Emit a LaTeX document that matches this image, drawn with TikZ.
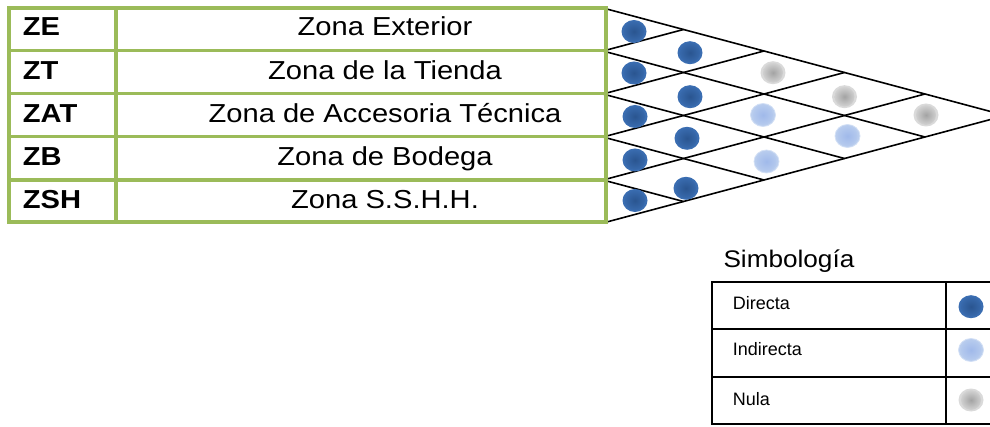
\documentclass[tikz,border=0pt]{standalone}
\usepackage{fontspec}
\setmainfont{Liberation Sans}
\usetikzlibrary{shapes.geometric}
\definecolor{tgreen}{HTML}{9BBB59}
\definecolor{dirO}{HTML}{3A6DB1}
\definecolor{dirI}{HTML}{2A5590}
\definecolor{indO}{HTML}{B9CDEE}
\definecolor{indI}{HTML}{A0B9EA}
\definecolor{indR}{HTML}{D3E0F5}
\definecolor{nulO}{HTML}{DADADA}
\definecolor{nulI}{HTML}{A3A3A3}
\tikzset{
  dotbase/.style={ellipse, minimum width=25pt, minimum height=23pt, inner sep=0pt},
  directa/.style={dotbase, fill=dirO, path picture={\shade[inner color=dirI, outer color=dirO] (path picture bounding box.center) circle (10pt);}},
  indirecta/.style={dotbase, fill=indO, draw=indR, line width=0.8pt, path picture={\shade[inner color=indI, outer color=indO] (path picture bounding box.center) circle (10pt);}},
  nula/.style={dotbase, fill=nulO, path picture={\shade[inner color=nulI, outer color=nulO] (path picture bounding box.center) circle (10pt);}},
  gridline/.style={line width=1.6pt, black},
  greenline/.style={line width=3.3pt, tgreen},
  legline/.style={line width=1.8pt, black},
  zname/.style={anchor=base, inner sep=0pt, font=\fontsize{26}{30}\selectfont},
  zcode/.style={anchor=base west, inner sep=0pt, font=\fontsize{26}{30}\selectfont\bfseries},
  legtext/.style={anchor=base west, inner sep=0pt, font=\fontsize{18}{21}\selectfont},
}
\newcommand{\sx}[1]{\scalebox{1.12}[1]{#1}}
\begin{document}
\begin{tikzpicture}[x=1pt,y=-1pt]
\useasboundingbox (0,0) rectangle (990,427);
\clip (0,0) rectangle (990,427);
% triangle grid
\foreach \i in {0,...,5} \coordinate (P\i) at (603,{8+43*\i});
\foreach \i in {0,...,4}
  \draw[gridline] (P\i) -- ({603+(5-\i)*80.5},{(8+43*\i+223)/2});
\foreach \j in {1,...,5}
  \draw[gridline] (P\j) -- ({603+\j*80.5},{(16+43*\j)/2});
% green table
\draw[greenline] (9,8) rectangle (606,222);
\foreach \y in {50.7,93.3,136.7,180} \draw[greenline] (9,\y) -- (606,\y);
\draw[greenline] (116,8) -- (116,222);
% codes
\node[zcode] (cZE)  at (22.7,36)  {\sx{ZE}};
\node[zcode] (cZT)  at (22.7,79.5)  {\sx{ZT}};
\node[zcode] (cZAT) at (22.7,122.5) {\sx{ZAT}};
\node[zcode] (cZB)  at (22.7,165.5) {\sx{ZB}};
\node[zcode] (cZSH) at (22.7,208.5) {\sx{ZSH}};
% names
\node[zname] (nZE)  at (385,36)  {\sx{Zona Exterior}};
\node[zname] (nZT)  at (385,79.5)  {\sx{Zona de la Tienda}};
\node[zname] (nZAT) at (385,122.5) {\sx{Zona de Accesoria Técnica}};
\node[zname] (nZB)  at (385,165.5) {\sx{Zona de Bodega}};
\node[zname] (nZSH) at (385,208.5) {\sx{Zona S.S.H.H.}};
% dots column 1
\node[directa] (s0) at (634,31.5) {};
\node[directa] (s1) at (634,73) {};
\node[directa] (s2) at (635,116.5) {};
\node[directa] (s3) at (635,160) {};
\node[directa] (s4) at (635,200.5) {};
% column 2
\node[directa] (r01) at (690,52.7) {};
\node[directa] (r12) at (690,96.7) {};
\node[directa] (r23) at (687,138.3) {};
\node[directa] (r34) at (686,188.3) {};
% column 3
\node[nula] (r02) at (773,72.7) {};
\node[indirecta] (r13) at (763,115) {};
\node[indirecta] (r24) at (766.5,161.5) {};
% column 4
\node[nula] (r03) at (844.5,96.7) {};
\node[indirecta] (r14) at (847.5,136) {};
% column 5
\node[nula] (r04) at (926,115) {};
% legend
\node[anchor=base west, inner sep=0pt, font=\fontsize{24}{28}\selectfont] (simb) at (723.3,267.3) {\scalebox{1.09}[1]{Simbología}};
\draw[legline] (711.7,282.3) rectangle (1000,424.3);
\draw[legline] (711.7,329) -- (1000,329);
\draw[legline] (711.7,376.7) -- (1000,376.7);
\draw[legline] (946,282.3) -- (946,424.3);
\node[legtext] (lD) at (732.7,310) {Directa};
\node[legtext] (lI) at (732.7,355.5) {Indirecta};
\node[legtext] (lN) at (732.7,405) {Nula};
\node[directa] (kD) at (971,306.7) {};
\node[indirecta] (kI) at (971,350) {};
\node[nula] (kN) at (971,400) {};
\end{tikzpicture}
\end{document}
